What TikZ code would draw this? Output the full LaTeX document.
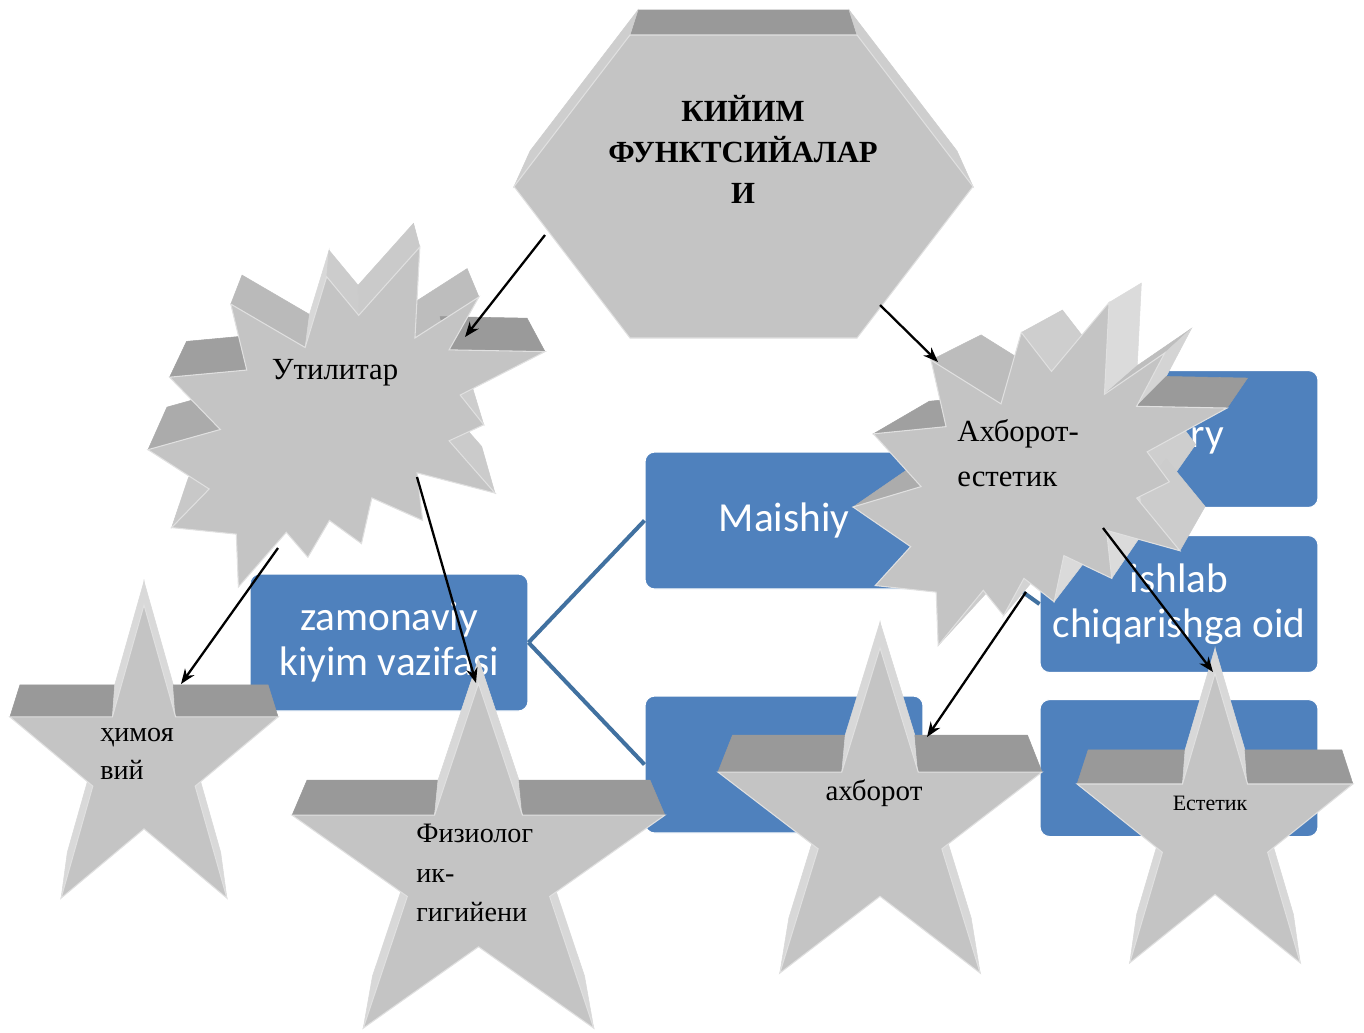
\documentclass[tikz,border=0pt]{standalone}
\usepackage{fontspec}
\setmainfont{Liberation Serif}
\newfontfamily\boxfont{Carlito}
\usetikzlibrary{positioning,calc,arrows.meta}
\definecolor{boxblue}{RGB}{79,129,189}
\definecolor{linkblue}{RGB}{65,113,160}
\definecolor{facegray}{RGB}{196,196,196}
\tikzset{
	chart/.style={x=0.02cm,y=-0.02cm},
	smartbox/.style={rectangle,rounded corners=5.5pt,fill=boxblue,draw=white,line width=0.6pt,
		minimum width=5.56cm,minimum height=2.74cm,text=white,align=center,
		font=\boxfont\fontsize{23.5}{25.5}\selectfont},
	branch/.style={draw=linkblue,line width=2.3pt},
	solidfront/.style={fill=facegray,draw=black!12,line width=0.6pt},
	shapetext/.style={inner sep=0pt,align=left},
	pointer/.style={->,>={Stealth[length=8.5pt,width=6.5pt]},line width=1.3pt}
}
% extruded grey shape: box x, box y, width, height, vanishing x, vanishing y, depth factor, outline macro
\newcommand{\solidface}[8]{%
	\foreach \ux/\uy [count=\i] in #8{%
		\pgfmathsetmacro\X{#1+#3*(\ux)}%
		\pgfmathsetmacro\Y{#2+#4*(\uy)}%
		\coordinate (sf-\i) at (\X,\Y);%
		\ifnum\i>1
			\pgfmathsetmacro\ex{(\X-\lastX)/100}%
			\pgfmathsetmacro\ey{(\Y-\lastY)/100}%
			\pgfmathsetmacro\wallside{\ex*(#6-\lastY)/100-\ey*(#5-\lastX)/100}%
			\ifdim\wallside pt<0pt
				\pgfmathsetmacro\wallshade{14+26*(1-abs(\ey)/veclen(\ex,\ey))}%
				\fill[black!\wallshade,draw=black!\wallshade,line width=0.3pt] (\lastX,\lastY) -- (\X,\Y)
					-- ($(#5,#6)!#7!(\X,\Y)$) -- ($(#5,#6)!#7!(\lastX,\lastY)$) -- cycle;%
			\fi
		\fi
		\xdef\lastX{\X}\xdef\lastY{\Y}\xdef\sfn{\i}%
	}%
	\fill[solidfront] (sf-1) \foreach \i in {2,...,\sfn}{ -- (sf-\i)} -- cycle;%
}
\newcommand{\hexline}{0.2527/0,0.7473/0,1/0.5,0.7473/1,0.2527/1,0/0.5,0.2527/0}
\newcommand{\starline}{0/-1,0.2245/-0.309,0.951/-0.309,0.363/0.118,0.588/0.809,0/0.382,-0.588/0.809,-0.363/0.118,-0.951/-0.309,-0.2245/-0.309,0/-1}
\newcommand{\burstline}{0.6847/0,0.6724/0.2675,0.8336/0.1469,0.7584/0.3025,1/0.3077,0.7864/0.4354,0.8458/0.5228,0.7584/0.57,0.874/0.7237,0.6778/0.6643,0.6918/0.8042,0.5638/0.7378,0.5377/0.8724,0.457/0.8042,0.4027/0.9126,0.3484/0.8391,0.2277/1,0.2224/0.8444,0.0594/0.8252,0.1541/0.7117,0/0.5961,0.1821/0.5367,0.0544/0.3829,0.2488/0.3619,0.2085/0.1679,0.3957/0.2955,0.4501/0.0874,0.5307/0.2009,0.6847/0}

\begin{document}
\begin{tikzpicture}[chart]
	\useasboundingbox (0,0) rectangle (1364,1032);
	
	% blue chart in the back
	\node[smartbox] (zam) at (389,642.5) {zamonaviy\\kiyim vazifasi};
	\node[smartbox] (maishiy) at (784,520.5) {Maishiy};
	\node[smartbox] (lowbox) at (784,764.5) {};
	\node[smartbox] (ry) at (1179,439) {};
	\node[smartbox] (ishlab) [below=0.54cm of ry] {ishlab\\chiqarishga oid};
	\node[smartbox] (estbox) [below=0.52cm of ishlab] {};
	\node[text=white,font=\boxfont\fontsize{23.5}{25.5}\selectfont,anchor=east] (rytext) at (1230,441) {ry};
	
	\draw[branch] (zam.east) -- (maishiy.west);
	\draw[branch] (zam.east) -- (lowbox.west);
	\draw[branch] (maishiy.east) -- (ry.west);
	\draw[branch] (maishiy.east) -- (ishlab.west);
	\draw[branch] (lowbox.east) -- (estbox.west);
	
	% grey shapes
	\solidface{514}{35}{459}{303}{744}{-322}{0.93}{\hexline}
	\solidface{148}{247}{397}{340}{352}{-8}{0.907}{\burstline}
	\solidface{853}{302.5}{374}{343}{1432}{108}{0.9}{\burstline}
	\solidface{144}{767}{141}{162}{144}{288}{0.925}{\starline}
	\solidface{478.5}{874}{196}{190.5}{478.5}{377.5}{0.92}{\starline}
	\solidface{880}{827.6}{170.4}{179.8}{880}{361}{0.91}{\starline}
	\solidface{1215}{833.4}{145}{160}{1215}{359}{0.92}{\starline}
	
	% texts
	\node[font=\bfseries\fontsize{17.5}{23.3}\selectfont,align=center] (title) at (743,149) {КИЙИМ\\ФУНКТСИЙАЛАР\\И};
	\node[shapetext,font=\fontsize{17.5}{21}\selectfont] (util) at (335,373) {Утилитар};
	\node[shapetext,font=\fontsize{17.5}{26}\selectfont,anchor=west] (axest) at (957,453) {Ахборот-\\естетик};
	\node[shapetext,font=\fontsize{16}{21.5}\selectfont,anchor=west] (himoya) at (100,754) {ҳимоя\\вий};
	\node[shapetext,font=\fontsize{16}{22.4}\selectfont,anchor=west] (fiziol) at (416,873) {Физиолог\\ик-\\гигийени};
	\node[shapetext,font=\fontsize{16.5}{20}\selectfont] (axb) at (874,793) {ахборот};
	\node[shapetext,font=\fontsize{12.5}{15}\selectfont] (estet) at (1210,803) {Естетик};
	
	% arrows
	\coordinate (hexA) at (545,235);
	\coordinate (utilIn) at (465,337);
	\coordinate (hexB) at (880,305);
	\coordinate (axIn) at (938,362);
	\coordinate (utilA) at (278,548);
	\coordinate (himIn) at (181,684);
	\coordinate (utilB) at (417,477);
	\coordinate (fizIn) at (476,683);
	\coordinate (axA) at (1026,592);
	\coordinate (axbIn) at (927,737);
	\coordinate (axB) at (1103,528);
	\coordinate (estIn) at (1213,672);
	
	\draw[pointer] (hexA) -- (utilIn);
	\draw[pointer] (hexB) -- (axIn);
	\draw[pointer] (utilA) -- (himIn);
	\draw[pointer] (utilB) -- (fizIn);
	\draw[pointer] (axA) -- (axbIn);
	\draw[pointer] (axB) -- (estIn);
\end{tikzpicture}
\end{document}
